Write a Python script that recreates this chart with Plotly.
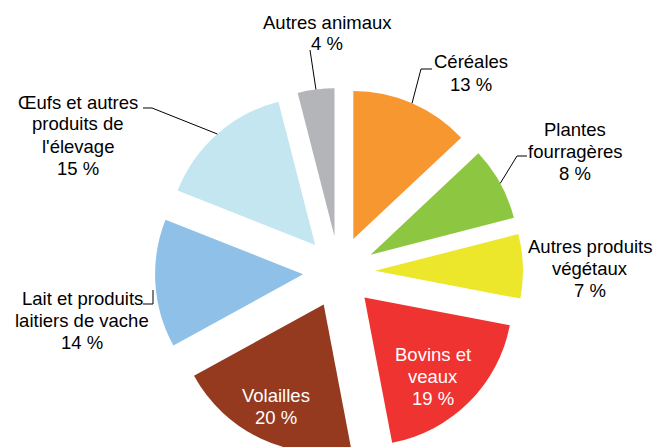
import math
import plotly.graph_objects as go

# ---- data ----
categories = ["Céréales", "Plantes fourragères", "Autres produits végétaux",
              "Bovins et veaux", "Volailles", "Lait et produits laitiers de vache",
              "Œufs et autres produits de l'élevage", "Autres animaux"]
values = [13, 8, 7, 19, 20, 14, 15, 4]
label_lines = [["Céréales", "13 %"],
               ["Plantes", "fourragères", "8 %"],
               ["Autres produits", "végétaux", "7 %"],
               ["Bovins et", "veaux", "19 %"],
               ["Volailles", "20 %"],
               ["Lait et produits", "laitiers de vache", "14 %"],
               ["Œufs et autres", "produits de", "l'élevage", "15 %"],
               ["Autres animaux", "4 %"]]
colors = ["#F7972F", "#8DC641", "#EDE72B", "#EE3331", "#953A1F",
          "#8FC0E7", "#C3E6F0", "#B4B5B9"]

# ---- layout geometry (pixels) ----
W, H = 659, 456
CX, CY = 339, 272
R = 148
PULL = 0.243
EXT = R * (1 + PULL)


def px(x):
    return x / W


def py(y):
    return 1 - y / H


fig = go.Figure(go.Pie(
    labels=categories, values=values, sort=False, direction="clockwise",
    rotation=0, pull=[PULL] * len(values), textinfo="none", hoverinfo="label+percent",
    marker=dict(colors=colors, line=dict(width=0)),
    domain=dict(x=[px(CX - EXT), px(CX + EXT)], y=[py(CY + EXT), py(CY - EXT)]),
    showlegend=False,
))

# label positions: centre x, y of first line (px); line spacing
label_pos = [(471, 62), (575, 129), (590, 246), (433, 354), (276, 395),
             (82, 298), (78, 102), (327, 22)]
label_col = ["#000", "#000", "#000", "#fff", "#fff", "#000", "#000", "#000"]
LS = 22

annotations = []
for lines, (x, y), c in zip(label_lines, label_pos, label_col):
    for k, t in enumerate(lines):
        annotations.append(dict(text=t, x=px(x), y=py(y + k * LS), xref="paper", yref="paper",
                                showarrow=False, xanchor="center", yanchor="middle",
                                font=dict(family="Liberation Sans, Arial", size=18.5, color=c)))

# leader lines: from label elbow to the slice's outer arc at its mid angle
total = sum(values)
cum = 0
mid = []
for v in values:
    mid.append(math.radians((cum + v / 2) / total * 360))
    cum += v


def arc_point(i):
    a = mid[i]
    d = R * PULL + R
    return CX + d * math.sin(a), CY - d * math.cos(a)


leaders = {
    0: [(432, 69), (421, 69)],
    1: [(527, 156), (517, 156)],
    5: [(143, 304), (153, 304), (153, 290)],
    6: [(143, 108), (152, 108)],
    7: [(310, 50)],
}
shapes = []
for i, pts in leaders.items():
    full = pts if i == 5 else pts + [arc_point(i)]
    path = "M " + " L ".join(f"{px(x):.5f},{py(y):.5f}" for x, y in full)
    shapes.append(dict(type="path", path=path, xref="paper", yref="paper",
                       line=dict(color="#000", width=1)))

fig.update_layout(width=W, height=H, margin=dict(l=0, r=0, t=0, b=0),
                  paper_bgcolor="white", plot_bgcolor="white",
                  annotations=annotations, shapes=shapes)

fig.write_html("out.html",
               config={"displayModeBar": False},
               post_script="document.body.style.margin='0';"
                           "document.body.style.overflow='hidden';"
                           "document.documentElement.style.overflow='hidden';")
